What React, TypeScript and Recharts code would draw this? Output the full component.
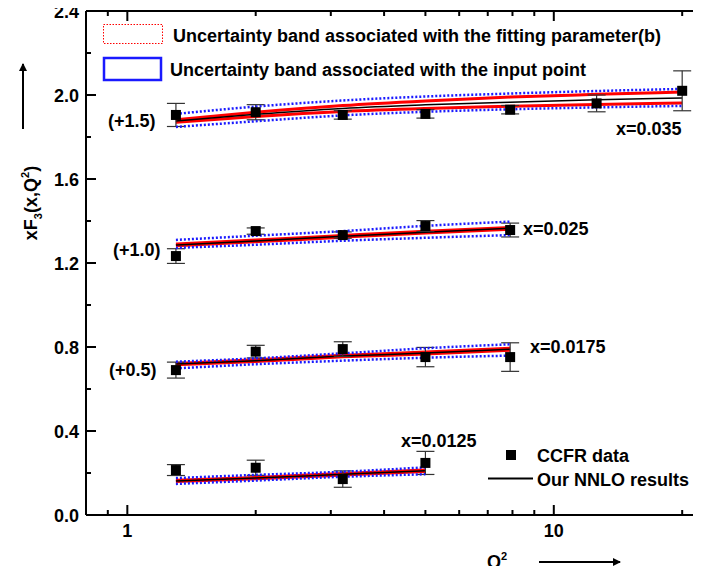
import React from 'react';
import { ComposedChart, Line, Scatter, XAxis, YAxis, ErrorBar } from 'recharts';

// Q^2 bins (GeV^2)
const q2Bins = [1.3, 2.0, 3.2, 5.0, 7.9, 12.6, 20.0];
const xTicks = [0.9, 1, 2, 3, 4, 5, 6, 7, 8, 9, 10, 20];
const yTicks = [0, 0.2, 0.4, 0.6, 0.8, 1.0, 1.2, 1.4, 1.6, 1.8, 2.0, 2.2, 2.4];

// x = 0.035 (+1.5)
const ccfr035 = [1.905, 1.918, 1.905, 1.91, 1.93, 1.96, 2.02];
const err035 = [0.055, 0.036, 0.02, 0.02, 0.02, 0.04, 0.095];
const nnlo035 = [1.876, 1.908, 1.936, 1.953, 1.966, 1.977, 1.986];
const inUp035 = [1.910, 1.945, 1.974, 1.993, 2.007, 2.019, 2.029];
const inLo035 = [1.848, 1.875, 1.903, 1.920, 1.932, 1.941, 1.948];
const bUp035 = [1.882, 1.918, 1.950, 1.972, 1.990, 2.003, 2.014];
const bLo035 = [1.870, 1.898, 1.922, 1.936, 1.946, 1.955, 1.962];

// x = 0.025 (+1.0)
const ccfr025 = [1.233, 1.352, 1.333, 1.376, 1.357];
const err025 = [0.035, 0.015, 0.015, 0.026, 0.033];
const nnlo025 = [1.286, 1.305, 1.327, 1.347, 1.365];
const inUp025 = [1.310, 1.330, 1.352, 1.377, 1.397];
const inLo025 = [1.272, 1.287, 1.306, 1.320, 1.333];
const bUp025 = [1.290, 1.309, 1.331, 1.351, 1.369];
const bLo025 = [1.282, 1.301, 1.323, 1.343, 1.361];

// x = 0.0175 (+0.5)
const ccfr0175 = [0.690, 0.778, 0.790, 0.752, 0.752];
const err0175 = [0.038, 0.03, 0.035, 0.046, 0.068];
const nnlo0175 = [0.719, 0.735, 0.757, 0.771, 0.789];
const inUp0175 = [0.730, 0.746, 0.770, 0.794, 0.813];
const inLo0175 = [0.698, 0.718, 0.735, 0.749, 0.759];
const bUp0175 = [0.722, 0.739, 0.761, 0.776, 0.794];
const bLo0175 = [0.716, 0.731, 0.753, 0.767, 0.784];

// x = 0.0125
const ccfr0125 = [0.214, 0.225, 0.171, 0.248];
const err0125 = [0.026, 0.036, 0.039, 0.055];
const nnlo0125 = [0.162, 0.176, 0.194, 0.211];
const inUp0125 = [0.176, 0.191, 0.206, 0.227];
const inLo0125 = [0.148, 0.164, 0.182, 0.194];
const bUp0125 = [0.165, 0.179, 0.198, 0.215];
const bLo0125 = [0.159, 0.173, 0.190, 0.207];

const rows = (vals: number[]) => vals.map((v, i) => ({ q: q2Bins[i], v }));
const pts = (vals: number[], errs: number[]) => vals.map((v, i) => ({ q: q2Bins[i], v, e: errs[i] }));

const sets = [
  { c: ccfr035, e: err035, n: nnlo035, iu: inUp035, il: inLo035, bu: bUp035, bl: bLo035 },
  { c: ccfr025, e: err025, n: nnlo025, iu: inUp025, il: inLo025, bu: bUp025, bl: bLo025 },
  { c: ccfr0175, e: err0175, n: nnlo0175, iu: inUp0175, il: inLo0175, bu: bUp0175, bl: bLo0175 },
  { c: ccfr0125, e: err0125, n: nnlo0125, iu: inUp0125, il: inLo0125, bu: bUp0125, bl: bLo0125 },
];

const FONT = '"Liberation Sans", Arial, sans-serif';
const txt = { fontFamily: FONT, fontWeight: 700, fontSize: 18, fill: '#000' } as const;

const isMajorX = (v: number) => v === 1 || v === 10;
const isMajorY = (v: number) => Math.round(v * 10) % 4 === 0;

const BottomTick = (p: any) => {
  const { x, y, payload } = p;
  const major = isMajorX(payload.value);
  return (
    <g>
      <line x1={x} x2={x} y1={y} y2={y - (major ? 10 : 5)} stroke="#000" strokeWidth={2} />
      {major && (
        <text x={x} y={y + 21.5} textAnchor="middle" {...txt}>{payload.value}</text>
      )}
    </g>
  );
};
const TopTick = (p: any) => {
  const { x, y, payload } = p;
  const major = isMajorX(payload.value);
  return <line x1={x} x2={x} y1={y} y2={y + (major ? 10 : 5)} stroke="#000" strokeWidth={2} />;
};
const LeftTick = (p: any) => {
  const { x, y, payload } = p;
  const major = isMajorY(payload.value);
  return (
    <g>
      <line x1={x} x2={x + (major ? 10 : 5)} y1={y} y2={y} stroke="#000" strokeWidth={2} />
      {major && (
        <text x={x - 7} y={y + 6.5} textAnchor="end" {...txt}>{Number(payload.value).toFixed(1)}</text>
      )}
    </g>
  );
};
const RightTick = (p: any) => {
  const { x, y, payload } = p;
  const major = isMajorY(payload.value);
  return <line x1={x} x2={x - (major ? 10 : 5)} y1={y} y2={y} stroke="#000" strokeWidth={2} />;
};

const Square = (p: any) => <rect x={p.cx - 5} y={p.cy - 5} width={10} height={10} fill="#000" />;

const BLUE = '#1a1aff';
const RED = '#ff0000';

export default function App() {
  return (
    <div style={{ position: 'relative', margin: -8, width: 701, height: 574, overflow: 'hidden', background: '#fff' }}>
      <ComposedChart width={720} height={574} margin={{ top: 10, left: 85, right: 15, bottom: 58 }}>
        <XAxis
          xAxisId="b"
          dataKey="q"
          type="number"
          scale="log"
          domain={[0.8, 22.5]}
          allowDataOverflow
          ticks={xTicks}
          interval={0}
          height={1}
          tickSize={0}
          tickMargin={0}
          tickLine={false}
          tick={BottomTick}
          axisLine={{ stroke: '#000', strokeWidth: 2 }}
        />
        <XAxis
          xAxisId="t"
          orientation="top"
          dataKey="q"
          type="number"
          scale="log"
          domain={[0.8, 22.5]}
          allowDataOverflow
          ticks={xTicks}
          interval={0}
          height={1}
          tickSize={0}
          tickMargin={0}
          tickLine={false}
          tick={TopTick}
          axisLine={{ stroke: '#000', strokeWidth: 2 }}
        />
        <YAxis
          yAxisId="l"
          dataKey="v"
          type="number"
          domain={[0, 2.4]}
          allowDataOverflow
          ticks={yTicks}
          interval={0}
          width={1}
          tickSize={0}
          tickMargin={0}
          tickLine={false}
          tick={LeftTick}
          axisLine={{ stroke: '#000', strokeWidth: 2 }}
        />
        <YAxis
          yAxisId="r"
          orientation="right"
          dataKey="v"
          type="number"
          domain={[0, 2.4]}
          allowDataOverflow
          ticks={yTicks}
          interval={0}
          width={1}
          tickSize={0}
          tickMargin={0}
          tickLine={false}
          tick={RightTick}
          axisLine={{ stroke: '#000', strokeWidth: 2 }}
        />
        {sets.map((s, k) => (
          <Line key={'bu' + k} xAxisId="b" yAxisId="l" data={rows(s.bu)} dataKey="v" type="monotone" stroke={RED} strokeWidth={3} dot={false} isAnimationActive={false} />
        ))}
        {sets.map((s, k) => (
          <Line key={'bl' + k} xAxisId="b" yAxisId="l" data={rows(s.bl)} dataKey="v" type="monotone" stroke={RED} strokeWidth={3} dot={false} isAnimationActive={false} />
        ))}
        {sets.map((s, k) => (
          <Line key={'n' + k} xAxisId="b" yAxisId="l" data={rows(s.n)} dataKey="v" type="monotone" stroke="#000" strokeWidth={1.5} dot={false} isAnimationActive={false} />
        ))}
        {sets.map((s, k) => (
          <Scatter key={'c' + k} xAxisId="b" yAxisId="l" data={pts(s.c, s.e)} dataKey="v" shape={Square} isAnimationActive={false}>
            <ErrorBar dataKey="e" direction="y" width={9} stroke="#333" strokeWidth={1.2} />
          </Scatter>
        ))}
        {sets.map((s, k) => (
          <Line key={'iu' + k} xAxisId="b" yAxisId="l" data={rows(s.iu)} dataKey="v" type="monotone" stroke={BLUE} strokeWidth={2.5} strokeDasharray="2 2" dot={false} isAnimationActive={false} />
        ))}
        {sets.map((s, k) => (
          <Line key={'il' + k} xAxisId="b" yAxisId="l" data={rows(s.il)} dataKey="v" type="monotone" stroke={BLUE} strokeWidth={2.5} strokeDasharray="2 2" dot={false} isAnimationActive={false} />
        ))}
      </ComposedChart>
      <svg width={701} height={574} style={{ position: 'absolute', left: 0, top: 0, pointerEvents: 'none' }}>
        <defs>
          <marker id="ah" markerWidth="8" markerHeight="8" refX="7" refY="4" orient="auto" markerUnits="userSpaceOnUse">
            <path d="M0,0 L8,4 L0,8 Z" fill="#000" />
          </marker>
        </defs>
        {/* legend top */}
        <rect x={103.5} y={24.5} width={59} height={19} fill="none" stroke={RED} strokeWidth={1} strokeDasharray="1.5 1.5" />
        <text x={173} y={41.5} {...txt}>Uncertainty band associated with the fitting parameter(b)</text>
        <rect x={104} y={58} width={57} height={22} fill="none" stroke={BLUE} strokeWidth={2.5} />
        <text x={170} y={75.5} {...txt}>Uncertainty band associated with the input point</text>
        {/* legend bottom right */}
        <rect x={506} y={450} width={10} height={10} fill="#000" />
        <text x={537} y={461.5} {...txt}>CCFR data</text>
        <line x1={488} x2={533} y1={478.5} y2={478.5} stroke="#000" strokeWidth={2} />
        <text x={537} y={485.5} {...txt}>Our NNLO results</text>
        {/* annotations */}
        <text x={108} y={126.5} {...txt}>(+1.5)</text>
        <text x={616} y={134.5} {...txt}>x=0.035</text>
        <text x={113} y={255.5} {...txt}>(+1.0)</text>
        <text x={523} y={234.5} {...txt}>x=0.025</text>
        <text x={109} y={375.5} {...txt}>(+0.5)</text>
        <text x={530} y={353} {...txt}>x=0.0175</text>
        <text x={401} y={446.5} {...txt}>x=0.0125</text>
        {/* axis titles */}
        <text transform="translate(37,203) rotate(-90)" x={0} y={0} textAnchor="middle" {...txt}>
          xF<tspan fontSize={11} dy={5}>3</tspan><tspan dy={-5}>(x,Q</tspan><tspan fontSize={11} dy={-8}>2</tspan><tspan dy={8}>)</tspan>
        </text>
        <line x1={23} x2={23} y1={129} y2={64} stroke="#000" strokeWidth={2} markerEnd="url(#ah)" />
        <text x={487} y={567.5} {...txt}>Q<tspan fontSize={11} dy={-8}>2</tspan></text>
        <line x1={539} x2={620} y1={562} y2={562} stroke="#000" strokeWidth={2} markerEnd="url(#ah)" />
      </svg>
    </div>
  );
}
